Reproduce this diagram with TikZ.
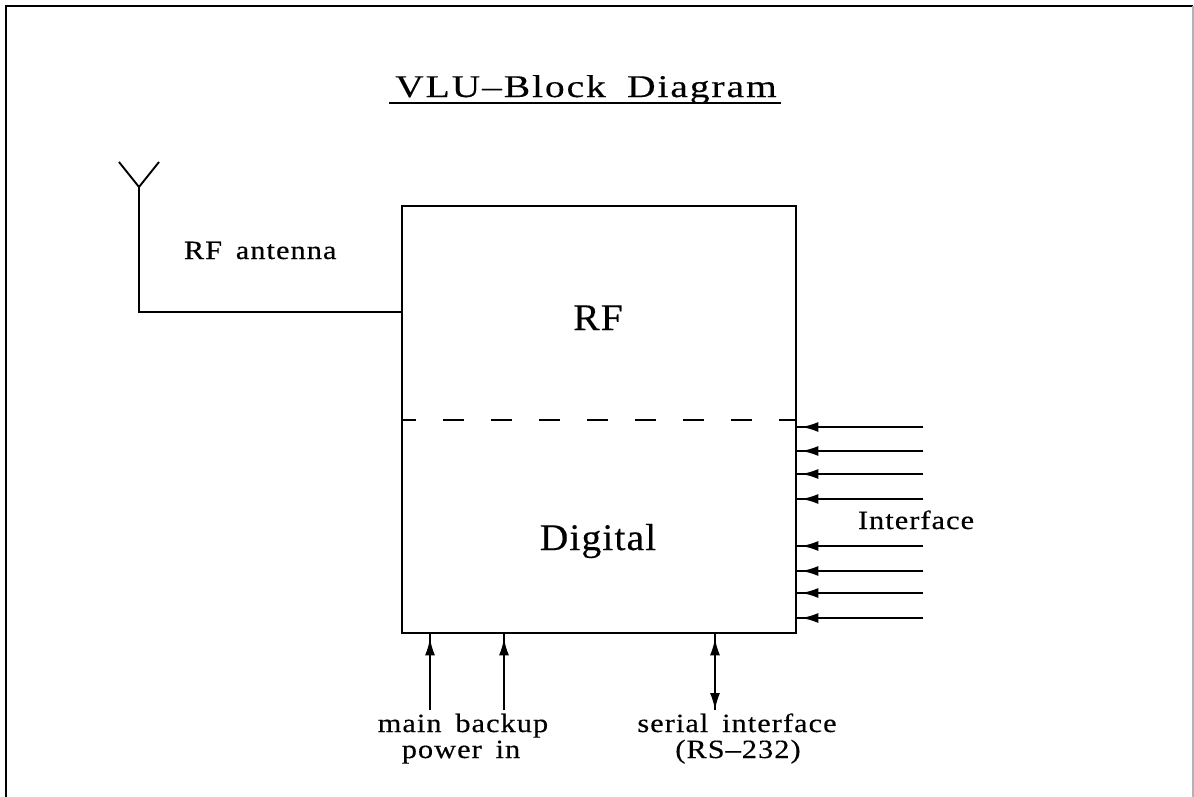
\documentclass[tikz,border=0pt]{standalone}
\usepackage{fontspec}
\setmainfont{Liberation Serif}
\newfontfamily\lblfont[FakeStretch=1.15, LetterSpace=4, FakeBold=0.4, WordSpace=1.6]{Liberation Serif}
\newfontfamily\titlefont[FakeStretch=1.25, LetterSpace=6, FakeBold=0.3, WordSpace=1.8]{Liberation Serif}
\newfontfamily\bigfont[FakeStretch=1.05, LetterSpace=3, FakeBold=0.3]{Liberation Serif}
\usetikzlibrary{arrows.meta}
\tikzset{
  lbl/.style={font=\lblfont\fontsize{15}{17}\selectfont, inner sep=0pt, anchor=base},
  bigtxt/.style={font=\bigfont\fontsize{21.4}{24}\selectfont, inner sep=0pt, anchor=base},
  ttl/.style={font=\titlefont\fontsize{18}{21}\selectfont, inner sep=0pt, anchor=base},
  inarrow/.style={-{Latex[length=0.34cm,width=0.2cm]}, shorten >=0.09cm},
  biarrow/.style={{Latex[length=0.34cm,width=0.2cm]}-{Latex[length=0.34cm,width=0.2cm]}, shorten <=0.09cm},
  divider/.style={dash pattern=on 0.42cm off 0.54cm, dash phase=0.12cm},
}
\begin{document}
\begin{tikzpicture}[x=0.02cm, y=-0.02cm, line width=1.1pt, line join=miter]
\useasboundingbox (0,0) rectangle (1194,796);
% frame
\coordinate (fbl) at (6,800);
\coordinate (ftl) at (6,6);
\coordinate (ftr) at (1193,6);
\coordinate (fbr) at (1193,800);
\draw (fbl) -- (ftl) -- (ftr);
\draw[gray!60, line width=0.6pt] (ftr) -- (fbr);

% title
\node[ttl] (title) at (586,97) {VLU–Block Diagram};
\coordinate (ul1) at (389,103);
\coordinate (ul2) at (781,103);
\draw[line width=0.9pt] (ul1) -- (ul2);

% main box
\node[draw, minimum width=7.88cm, minimum height=8.54cm, inner sep=0pt, anchor=north west] (vlu) at (401,205) {};
\coordinate (dl) at (401,420);
\coordinate (dr) at (795,420);
\draw[divider] (dl) -- (dr);
\node[bigtxt] (rf) at (598,330) {RF};
\node[bigtxt] (dig) at (598,550) {Digital};

% antenna
\coordinate (ant) at (139,187);
\coordinate (armL) at (119,162);
\coordinate (armR) at (159,162);
\coordinate (feed) at (139,312);
\draw (armL) -- (ant) -- (armR);
\draw (ant) -- (feed) -- (feed -| vlu.west);
\node[lbl, anchor=base west] (rfant) at (183,259) {RF antenna};

% interface lines
\foreach \i/\yy in {1/427,2/451,3/474,4/499,5/546,6/571,7/593,8/618}{
  \coordinate (ie\i) at (923,\yy);
  \draw (ie\i) -- (ie\i -| vlu.east);
  \draw[inarrow] (ie\i) -- (ie\i -| vlu.east);
}
\node[lbl, anchor=base west] (iflbl) at (857,529) {Interface};

% bottom arrows
\coordinate (pm) at (430,710);
\coordinate (pb) at (504,710);
\coordinate (ser) at (715,710);
\draw (pm) -- (pm |- vlu.south);
\draw[inarrow] (pm) -- (pm |- vlu.south);
\draw (pb) -- (pb |- vlu.south);
\draw[inarrow] (pb) -- (pb |- vlu.south);
\draw (ser) -- (ser |- vlu.south);
\draw[biarrow] (ser |- vlu.south) -- (ser);

\node[lbl] (mb) at (463,732) {main backup};
\node[lbl] (pin) at (461,758) {power in};
\node[lbl] (si) at (737,732) {serial interface};
\node[lbl] (rs) at (738,758) {(RS–232)};
\end{tikzpicture}
\end{document}
